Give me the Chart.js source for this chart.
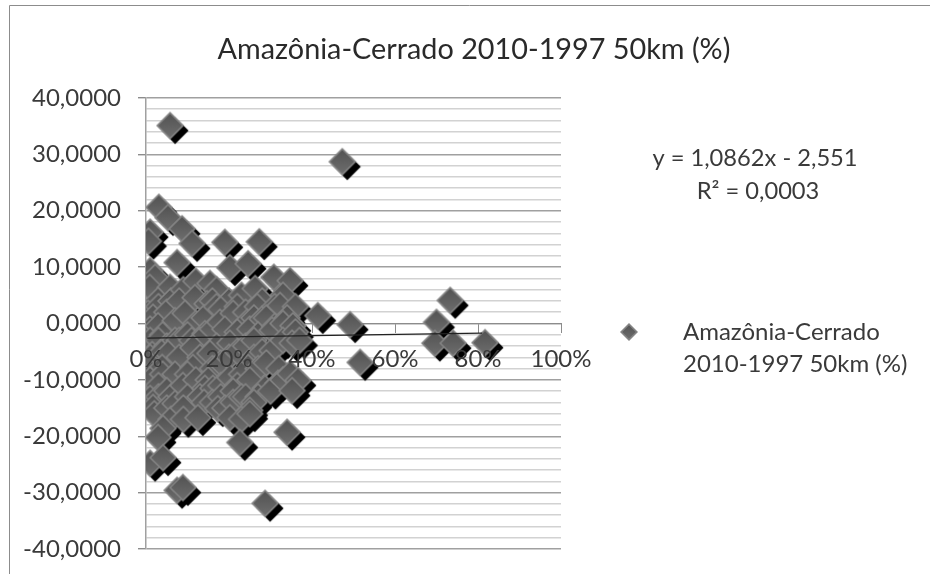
<!DOCTYPE html>
<html lang="en">
<head>
    <meta charset="UTF-8">
    <title>Amazônia-Cerrado 2010-1997 50km (%)</title>
    <script src="https://cdn.jsdelivr.net/npm/chart.js@4/dist/chart.umd.min.js"></script>
    <style>
        html, body { margin: 0; padding: 0; background: #fff; overflow: hidden; }
        #wrap { width: 930px; height: 574px; }
        canvas { filter: blur(0.45px); }
    </style>
</head>
<body>
    <div id="wrap"><canvas id="chart" width="930" height="574"></canvas></div>

    <script>
        const chartTitle = 'Amazônia-Cerrado 2010-1997 50km (%)';
        const legendLines = ['Amazônia-Cerrado', '2010-1997 50km (%)'];
        const trendText = ['y = 1,0862x - 2,551', 'R² = 0,0003'];

        // share of x axis and y value
        const pointsX = [0.058,0.473,0.031,0.053,0.087,0.111,0.010,0.006,0.075,0.190,0.273,0.308,0.347,0.323,0.414,0.492,
            0.202,0.246,0.154,0.263,0.118,0.147,0.210,0.243,0.178,0.094,0.029,0.022,0.010,0.009,0.058,0.005,0.017,0.029,
            0.354,0.516,0.733,0.700,0.696,0.740,0.817,0.304,0.352,0.304,0.347,0.287,0.318,0.352,0.366,0.340,0.250,0.226,
            0.287,0.075,0.089,0.010,0.041,0.029,0.041,0.250,0.202,0.173,0.125,0.070,0.010,0.017,0.142,0.089,0.050,0.202,
            0.161,0.246,0.113,0.014,0.053,0.113,0.202,0.039,0.154,0.142,0.268,0.310,0.280,0.070,0.100,0.010,0.015,0.180,
            0.220,0.260,0.230,0.270,0.130,0.090,0.050,0.160,0.030,0.240,0.200,0.160,0.080,0.050,0.120,
            0.01,0.04,0.07,0.11,0.14,0.17,0.19,0.22,0.25,0.27,0.29,0.33,0.36,0.03,0.06,0.09,0.12,0.17,0.23,0.28,0.33,
            0.01,0.04,0.08,0.10,0.13,0.17,0.20,0.23,0.26,0.29,0.32,0.01,0.04,0.07,0.12,0.15,0.18,0.22,0.25,0.27,0.30,0.33,
            0.02,0.06,0.10,0.14,0.18,0.21,0.24,0.23,0.26,0.09,0.06,0.03,0.16,0.19,0.21,0.13,0.16,0.08,0.05,0.03,0.24,0.28,
            0.33,0.37,0.36,0.34,0.31,0.26,0.22,0.18];
        const pointsY = [35.1,28.7,20.6,18.8,16.8,14.2,16.2,14.6,10.8,14.4,14.5,8.2,7.6,3.2,1.4,-0.2,
            9.9,10.6,7.1,6.2,4.6,3.5,1.8,0.2,0.2,1.8,4.1,8.2,9.4,6.4,6.4,1.8,1.1,-0.4,
            -0.4,-6.9,4.1,0.2,-3.5,-3.5,-3.4,-4.8,-3.5,-1.2,-8.9,-11.5,-10.6,-11.9,-10.1,-19.3,-15.4,-21.1,
            -31.9,-29.6,-29.1,-24.8,-23.8,-20.2,-18.6,-16.0,-16.7,-15.1,-16.7,-14.2,-13.3,-14.9,-11.5,-11.0,-11.9,-9.6,
            -11.5,-7.8,-7.8,-8.9,-5.3,-4.3,-3.5,-7.8,-5.3,-1.8,3.0,-0.5,0.8,-3.0,-2.0,-3.0,-5.5,-7.0,
            -5.0,-3.0,-13.0,-8.0,-13.0,-15.0,-15.0,-8.0,-11.0,2.0,4.0,4.0,4.0,2.0,0.0,
            -1,-2,0.5,-3,1,3,-1,-1.5,-1,-2,1,0,-1.5,3,4,6,7.5,6,5,4,5,
            -6,-5,-6,-9,-6,-4,-6,-9,-6,-7,-8,-10,-9,-9,-10,-10,-11,-11,-10,-13,-12,-10,
            -16,-13,-13,-14,-13,-14,-13,-17,-14,-17,-17,-13,-14,-15,-12,-3,-1,-3,-4,-3,-4,-5,
            -3,-3,3,1,3,1,3,2.5];

        // ends of the trend line
        const trendX = [0.003, 0.81];
        const trendY = [-2.6, -1.7];

        const xTicks = [0, 0.2, 0.4, 0.6, 0.8, 1];
        const yMin = -40, yMax = 40, yStep = 2, yMajor = 10;

        function makeDiamond(r, shadow) {
            const size = 2 * r + 14;
            const c = document.createElement('canvas');
            c.width = size; c.height = size;
            const g = c.getContext('2d');
            const m = size / 2;
            const path = (cx, cy, rr) => {
                g.beginPath();
                g.moveTo(cx, cy - rr); g.lineTo(cx + rr, cy); g.lineTo(cx, cy + rr); g.lineTo(cx - rr, cy);
                g.closePath();
            };
            if (shadow) {
                g.fillStyle = '#000';
                path(m + 5, m + 5, r - 0.5);
                g.fill();
            }
            const grad = g.createLinearGradient(0, m - r, 0, m + r);
            grad.addColorStop(0, '#505050');
            grad.addColorStop(1, '#707070');
            path(m, m, r);
            g.fillStyle = '#848484';
            g.fill();
            path(m, m, r - 2.2);
            g.fillStyle = grad;
            g.fill();
            return c;
        }

        const diamond = makeDiamond(14, true);
        const legendDiamond = makeDiamond(9, false);

        // drawn from upper left to lower right so the shadows get covered in the cloud
        const points = pointsX.map((x, i) => ({ x, y: pointsY[i] }))
            .sort((a, b) => (a.x * 415 - a.y * 5.64) - (b.x * 415 - b.y * 5.64));

        const textPlugin = {
            id: 'textPlugin',
            afterDraw(chart) {
                const ctx = chart.ctx;
                ctx.save();
                // frame of the picture, open at right and bottom
                ctx.strokeStyle = '#8c8c8c';
                ctx.lineWidth = 1;
                ctx.beginPath();
                ctx.moveTo(9.5, 574); ctx.lineTo(9.5, 5.5); ctx.lineTo(930, 5.5);
                ctx.stroke();

                ctx.textBaseline = 'middle';
                ctx.fillStyle = '#2a2a2a';
                ctx.textAlign = 'center';
                ctx.font = '28.8px Lato';
                ctx.fillText(chartTitle, 474, 50);

                ctx.fillStyle = '#3a3a3a';
                ctx.font = '23.7px Lato';
                ctx.fillText(trendText[0], 755, 158);
                ctx.fillText(trendText[1], 758, 191);

                ctx.textAlign = 'left';
                ctx.font = '24px Lato';
                ctx.fillText(legendLines[0], 683, 332);
                ctx.fillText(legendLines[1], 683, 364);
                ctx.drawImage(legendDiamond, 629 - legendDiamond.width / 2, 332 - legendDiamond.height / 2);
                ctx.restore();
            }
        };

        new Chart(document.getElementById('chart').getContext('2d'), {
            type: 'scatter',
            data: {
                datasets: [{
                    label: chartTitle,
                    data: points,
                    pointStyle: diamond,
                    order: 2
                }, {
                    label: 'Trend',
                    type: 'line',
                    data: trendX.map((x, i) => ({ x, y: trendY[i] })),
                    borderColor: '#222',
                    borderWidth: 1.2,
                    pointRadius: 0,
                    order: 1
                }]
            },
            options: {
                responsive: false,
                animation: false,
                layout: { padding: { top: 98, bottom: 25, left: 0, right: 369 } },
                plugins: { legend: { display: false }, tooltip: { enabled: false }, title: { display: false } },
                scales: {
                    x: {
                        type: 'linear',
                        min: 0, max: 1,
                        position: { y: 0 },
                        afterBuildTicks: s => { s.ticks = xTicks.map(value => ({ value })); },
                        afterFit: s => { s.height = 0; s.paddingLeft = 0; s.paddingRight = 0; },
                        grid: { drawOnChartArea: false, tickLength: 9, tickColor: '#8c8c8c' },
                        border: { color: '#8c8c8c' },
                        ticks: {
                            z: 1,
                            padding: 12,
                            maxRotation: 0,
                            autoSkip: false,
                            color: '#3a3a3a',
                            font: { family: 'Lato', size: 24 },
                            callback: v => Math.round(v * 100) + '%'
                        }
                    },
                    y: {
                        min: yMin, max: yMax,
                        afterFit: s => { s.width = 146; s.paddingTop = 0; s.paddingBottom = 0; },
                        grid: {
                            color: c => c.tick.value % yMajor === 0 ? '#a0a0a0' : '#d2d2d2',
                            lineWidth: c => c.tick.value % yMajor === 0 ? 1.4 : 1.6,
                            tickColor: c => c.tick.value % yMajor === 0 ? '#8c8c8c' : 'rgba(0,0,0,0)',
                            tickLength: 8
                        },
                        border: { color: '#a0a0a0', width: 1.5 },
                        ticks: {
                            stepSize: yStep,
                            autoSkip: false,
                            padding: 17,
                            color: '#3a3a3a',
                            font: { family: 'Lato', size: 24 },
                            callback: v => v % yMajor === 0 ? v.toFixed(4).replace('.', ',') : ''
                        }
                    }
                }
            },
            plugins: [textPlugin]
        });
    </script>
</body>
</html>
